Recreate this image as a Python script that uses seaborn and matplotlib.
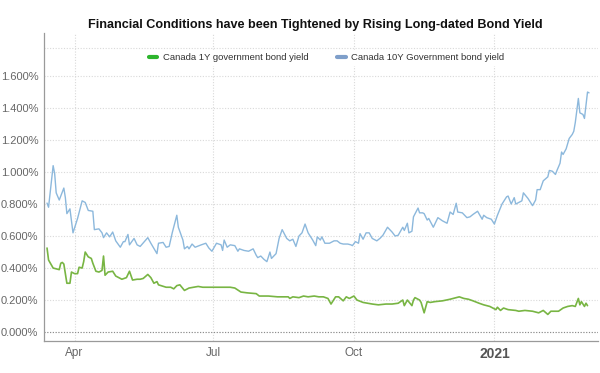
import pandas as pd
import matplotlib
matplotlib.use('Agg')
import matplotlib.pyplot as plt
from matplotlib.ticker import FuncFormatter
from matplotlib.lines import Line2D
import seaborn as sns

# Canada 1Y government bond yield (%)
dates_1y = ['2020-03-14', '2020-03-15', '2020-03-18', '2020-03-22', '2020-03-23', '2020-03-24',
            '2020-03-25', '2020-03-27', '2020-03-29', '2020-03-30', '2020-04-01', '2020-04-03',
            '2020-04-04', '2020-04-06', '2020-04-07', '2020-04-08', '2020-04-10', '2020-04-12',
            '2020-04-13', '2020-04-15', '2020-04-17', '2020-04-19', '2020-04-20', '2020-04-21',
            '2020-04-23', '2020-04-26', '2020-04-28', '2020-05-02', '2020-05-05', '2020-05-07',
            '2020-05-09', '2020-05-12', '2020-05-14', '2020-05-16', '2020-05-19', '2020-05-21',
            '2020-05-23', '2020-05-25', '2020-05-26', '2020-05-31', '2020-06-03', '2020-06-05',
            '2020-06-07', '2020-06-09', '2020-06-12', '2020-06-15', '2020-06-18', '2020-06-21',
            '2020-06-24', '2020-06-27', '2020-06-30', '2020-07-07', '2020-07-12', '2020-07-15',
            '2020-07-19', '2020-07-23', '2020-07-29', '2020-07-31', '2020-08-06', '2020-08-12',
            '2020-08-19', '2020-08-20', '2020-08-22', '2020-08-26', '2020-08-29', '2020-09-01',
            '2020-09-05', '2020-09-08', '2020-09-11', '2020-09-14', '2020-09-16', '2020-09-19',
            '2020-09-21', '2020-09-24', '2020-09-26', '2020-09-28', '2020-10-01', '2020-10-03',
            '2020-10-07', '2020-10-10', '2020-10-13', '2020-10-17', '2020-10-22', '2020-10-26',
            '2020-10-30', '2020-11-02', '2020-11-03', '2020-11-05', '2020-11-08', '2020-11-09',
            '2020-11-10', '2020-11-13', '2020-11-14', '2020-11-16', '2020-11-18', '2020-11-20',
            '2020-11-23', '2020-11-28', '2020-12-03', '2020-12-07', '2020-12-09', '2020-12-12',
            '2020-12-15', '2020-12-18', '2020-12-22', '2020-12-25', '2020-12-29', '2021-01-02',
            '2021-01-03', '2021-01-05', '2021-01-07', '2021-01-10', '2021-01-15', '2021-01-17',
            '2021-01-21', '2021-01-26', '2021-01-30', '2021-02-02', '2021-02-05', '2021-02-07',
            '2021-02-12', '2021-02-15', '2021-02-18', '2021-02-21', '2021-02-23', '2021-02-25',
            '2021-02-26', '2021-02-27', '2021-03-01', '2021-03-02', '2021-03-03']
yield_1y = [0.525, 0.45, 0.40, 0.39, 0.43, 0.435,
            0.425, 0.305, 0.305, 0.375, 0.365, 0.365,
            0.405, 0.40, 0.44, 0.50, 0.47, 0.46,
            0.43, 0.38, 0.375, 0.385, 0.475, 0.355,
            0.375, 0.38, 0.35, 0.33, 0.34, 0.38,
            0.325, 0.33, 0.33, 0.335, 0.36, 0.34,
            0.305, 0.315, 0.295, 0.28, 0.28, 0.27,
            0.29, 0.295, 0.26, 0.275, 0.28, 0.285,
            0.28, 0.28, 0.28, 0.28, 0.28, 0.275,
            0.25, 0.245, 0.24, 0.225, 0.225, 0.22,
            0.22, 0.21, 0.22, 0.215, 0.225, 0.22,
            0.225, 0.22, 0.22, 0.21, 0.175, 0.22,
            0.22, 0.195, 0.22, 0.21, 0.225, 0.20,
            0.185, 0.18, 0.175, 0.17, 0.175, 0.175,
            0.18, 0.20, 0.165, 0.20, 0.165, 0.20,
            0.215, 0.20, 0.185, 0.12, 0.19, 0.185,
            0.19, 0.195, 0.205, 0.215, 0.22, 0.21,
            0.205, 0.195, 0.18, 0.17, 0.16, 0.14,
            0.155, 0.135, 0.15, 0.14, 0.135, 0.13,
            0.135, 0.13, 0.12, 0.135, 0.11, 0.13,
            0.13, 0.15, 0.16, 0.165, 0.16, 0.21,
            0.17, 0.19, 0.16, 0.18, 0.165]

# Canada 10Y Government bond yield (%)
dates_10y = ['2020-03-14', '2020-03-15', '2020-03-18', '2020-03-19', '2020-03-20', '2020-03-22',
             '2020-03-25', '2020-03-26', '2020-03-27', '2020-03-29', '2020-03-31', '2020-04-03',
             '2020-04-06', '2020-04-08', '2020-04-10', '2020-04-13', '2020-04-14', '2020-04-17',
             '2020-04-19', '2020-04-20', '2020-04-22', '2020-04-24', '2020-04-26', '2020-04-28',
             '2020-05-01', '2020-05-03', '2020-05-04', '2020-05-06', '2020-05-07', '2020-05-10',
             '2020-05-12', '2020-05-14', '2020-05-19', '2020-05-21', '2020-05-25', '2020-05-26',
             '2020-05-29', '2020-05-31', '2020-06-02', '2020-06-04', '2020-06-07', '2020-06-08',
             '2020-06-11', '2020-06-12', '2020-06-14', '2020-06-15', '2020-06-17', '2020-06-19',
             '2020-06-23', '2020-06-26', '2020-06-28', '2020-06-30', '2020-07-03', '2020-07-06',
             '2020-07-07', '2020-07-08', '2020-07-10', '2020-07-12', '2020-07-15', '2020-07-17',
             '2020-07-18', '2020-07-21', '2020-07-24', '2020-07-27', '2020-07-29', '2020-07-30',
             '2020-08-01', '2020-08-03', '2020-08-05', '2020-08-07', '2020-08-08', '2020-08-11',
             '2020-08-13', '2020-08-15', '2020-08-18', '2020-08-20', '2020-08-22', '2020-08-24',
             '2020-08-26', '2020-08-28', '2020-08-30', '2020-09-01', '2020-09-04', '2020-09-06',
             '2020-09-07', '2020-09-09', '2020-09-10', '2020-09-12', '2020-09-15', '2020-09-18',
             '2020-09-20', '2020-09-22', '2020-09-24', '2020-09-27', '2020-09-29', '2020-09-30',
             '2020-10-02', '2020-10-04', '2020-10-05', '2020-10-07', '2020-10-09', '2020-10-11',
             '2020-10-13', '2020-10-16', '2020-10-18', '2020-10-20', '2020-10-23', '2020-10-26',
             '2020-10-28', '2020-10-30', '2020-11-02', '2020-11-03', '2020-11-05', '2020-11-06',
             '2020-11-08', '2020-11-09', '2020-11-12', '2020-11-13', '2020-11-15', '2020-11-16',
             '2020-11-18', '2020-11-19', '2020-11-22', '2020-11-25', '2020-11-28', '2020-12-01',
             '2020-12-03', '2020-12-05', '2020-12-07', '2020-12-08', '2020-12-11', '2020-12-14',
             '2020-12-16', '2020-12-18', '2020-12-21', '2020-12-24', '2020-12-25', '2020-12-27',
             '2020-12-30', '2021-01-01', '2021-01-03', '2021-01-06', '2021-01-09', '2021-01-10',
             '2021-01-12', '2021-01-14', '2021-01-15', '2021-01-17', '2021-01-19', '2021-01-20',
             '2021-01-23', '2021-01-24', '2021-01-26', '2021-01-28', '2021-01-29', '2021-01-31',
             '2021-02-02', '2021-02-05', '2021-02-06', '2021-02-08', '2021-02-10', '2021-02-11',
             '2021-02-13', '2021-02-14', '2021-02-15', '2021-02-17', '2021-02-19', '2021-02-21',
             '2021-02-22', '2021-02-23', '2021-02-24', '2021-02-25', '2021-02-26', '2021-02-28',
             '2021-03-01', '2021-03-02', '2021-03-03', '2021-03-04']
yield_10y = [0.806, 0.78, 1.04, 0.99, 0.87, 0.825,
             0.90, 0.84, 0.74, 0.77, 0.62, 0.71,
             0.82, 0.81, 0.76, 0.755, 0.64, 0.645,
             0.62, 0.59, 0.62, 0.595, 0.625, 0.57,
             0.53, 0.565, 0.565, 0.61, 0.545, 0.585,
             0.545, 0.535, 0.59, 0.555, 0.49, 0.555,
             0.56, 0.53, 0.535, 0.62, 0.73, 0.655,
             0.575, 0.52, 0.535, 0.52, 0.55, 0.53,
             0.545, 0.555, 0.525, 0.505, 0.555, 0.545,
             0.51, 0.575, 0.53, 0.545, 0.54, 0.505,
             0.52, 0.51, 0.505, 0.52, 0.48, 0.465,
             0.475, 0.455, 0.44, 0.50, 0.46, 0.49,
             0.585, 0.64, 0.585, 0.57, 0.58, 0.535,
             0.60, 0.62, 0.675, 0.62, 0.575, 0.54,
             0.595, 0.575, 0.595, 0.555, 0.555, 0.57,
             0.57, 0.555, 0.55, 0.55, 0.545, 0.54,
             0.565, 0.555, 0.615, 0.58, 0.62, 0.62,
             0.585, 0.57, 0.585, 0.605, 0.655, 0.625,
             0.60, 0.605, 0.655, 0.635, 0.68, 0.62,
             0.63, 0.72, 0.775, 0.745, 0.745, 0.74,
             0.70, 0.71, 0.655, 0.715, 0.695, 0.68,
             0.75, 0.735, 0.805, 0.75, 0.745, 0.715,
             0.72, 0.735, 0.755, 0.705, 0.73, 0.715,
             0.705, 0.675, 0.73, 0.80, 0.845, 0.85,
             0.80, 0.84, 0.80, 0.81, 0.82, 0.87,
             0.835, 0.82, 0.79, 0.825, 0.89, 0.89,
             0.945, 0.97, 1.01, 1.005, 0.985, 1.01,
             1.055, 1.125, 1.11, 1.145, 1.21, 1.235,
             1.255, 1.31, 1.385, 1.46, 1.37, 1.36,
             1.335, 1.42, 1.50, 1.495]

label_1y = 'Canada 1Y government bond yield'
label_10y = 'Canada 10Y Government bond yield'
title = 'Financial Conditions have been Tightened by Rising Long-dated Bond Yield'
y_ticks = [0.0, 0.2, 0.4, 0.6, 0.8, 1.0, 1.2, 1.4, 1.6]
x_ticks = ['2020-04-01', '2020-07-01', '2020-10-01', '2021-01-01']
x_tick_labels = ['Apr', 'Jul', 'Oct', '2021']

df_1y = pd.DataFrame({'Date': pd.to_datetime(dates_1y), 'Yield': yield_1y})
df_10y = pd.DataFrame({'Date': pd.to_datetime(dates_10y), 'Yield': yield_10y})

sns.set_style('white')
plt.rcParams['font.family'] = ['Liberation Sans', 'DejaVu Sans']

green = '#78b543'
blue = '#8cb8dc'

fig = plt.figure(figsize=(6, 3.73), dpi=100)
ax = fig.add_axes([0.0733, 0.0858, 0.9237, 0.8257])

sns.lineplot(data=df_10y, x='Date', y='Yield', color=blue, linewidth=1.0, ax=ax)
sns.lineplot(data=df_1y, x='Date', y='Yield', color=green, linewidth=1.2, ax=ax)

ax.set_xlim(pd.Timestamp('2020-03-12'), pd.Timestamp('2021-03-10'))
ax.set_ylim(-0.056, 1.869)

ax.set_yticks(y_ticks)
ax.yaxis.set_major_formatter(FuncFormatter(lambda v, p: '{:.3f}%'.format(v)))
ax.set_xticks(pd.to_datetime(x_ticks))
ax.set_xticklabels(x_tick_labels)
ax.set_xlabel('')
ax.set_ylabel('')

ax.grid(True, axis='both', linestyle=(0, (1, 1.5)), color='#d9d9d9', linewidth=0.8)
ax.axhline(1.775, linestyle=(0, (1, 1.5)), color='#d9d9d9', linewidth=0.8, zorder=0)
ax.axhline(0.0, linestyle=(0, (1, 1.5)), color='#8a8a8a', linewidth=0.8, zorder=1)
ax.set_axisbelow(True)

for side in ['top', 'right']:
    ax.spines[side].set_visible(False)
for side in ['left', 'bottom']:
    ax.spines[side].set_color('#9a9a9a')
    ax.spines[side].set_linewidth(0.9)

ax.tick_params(axis='y', length=0, labelsize=8, labelcolor='#666666', pad=4)
ax.tick_params(axis='x', length=0, labelsize=8.5, labelcolor='#666666', pad=4)
for lbl in ax.get_xticklabels():
    if lbl.get_text() == '2021':
        lbl.set_fontweight('bold')
        lbl.set_fontsize(10)
        lbl.set_color('#555555')

fig.text(0.525, 0.932, title, ha='center', va='center', fontsize=9.1,
         fontweight='bold', color='#111111')

handles = [Line2D([0], [0], color='#2db52d', linewidth=3),
           Line2D([0], [0], color='#7f9fca', linewidth=3)]
leg = ax.legend(handles, [label_1y, label_10y], loc='center', bbox_to_anchor=(0.51, 0.92),
                ncol=2, frameon=True, fontsize=6.8, handlelength=0.9, handletextpad=0.6,
                columnspacing=3.0, borderpad=0.3)
leg.get_frame().set_facecolor('white')
leg.get_frame().set_edgecolor('white')
leg.get_frame().set_alpha(1)
for t in leg.get_texts():
    t.set_color('#333333')

fig.savefig('out.png', dpi=100)
